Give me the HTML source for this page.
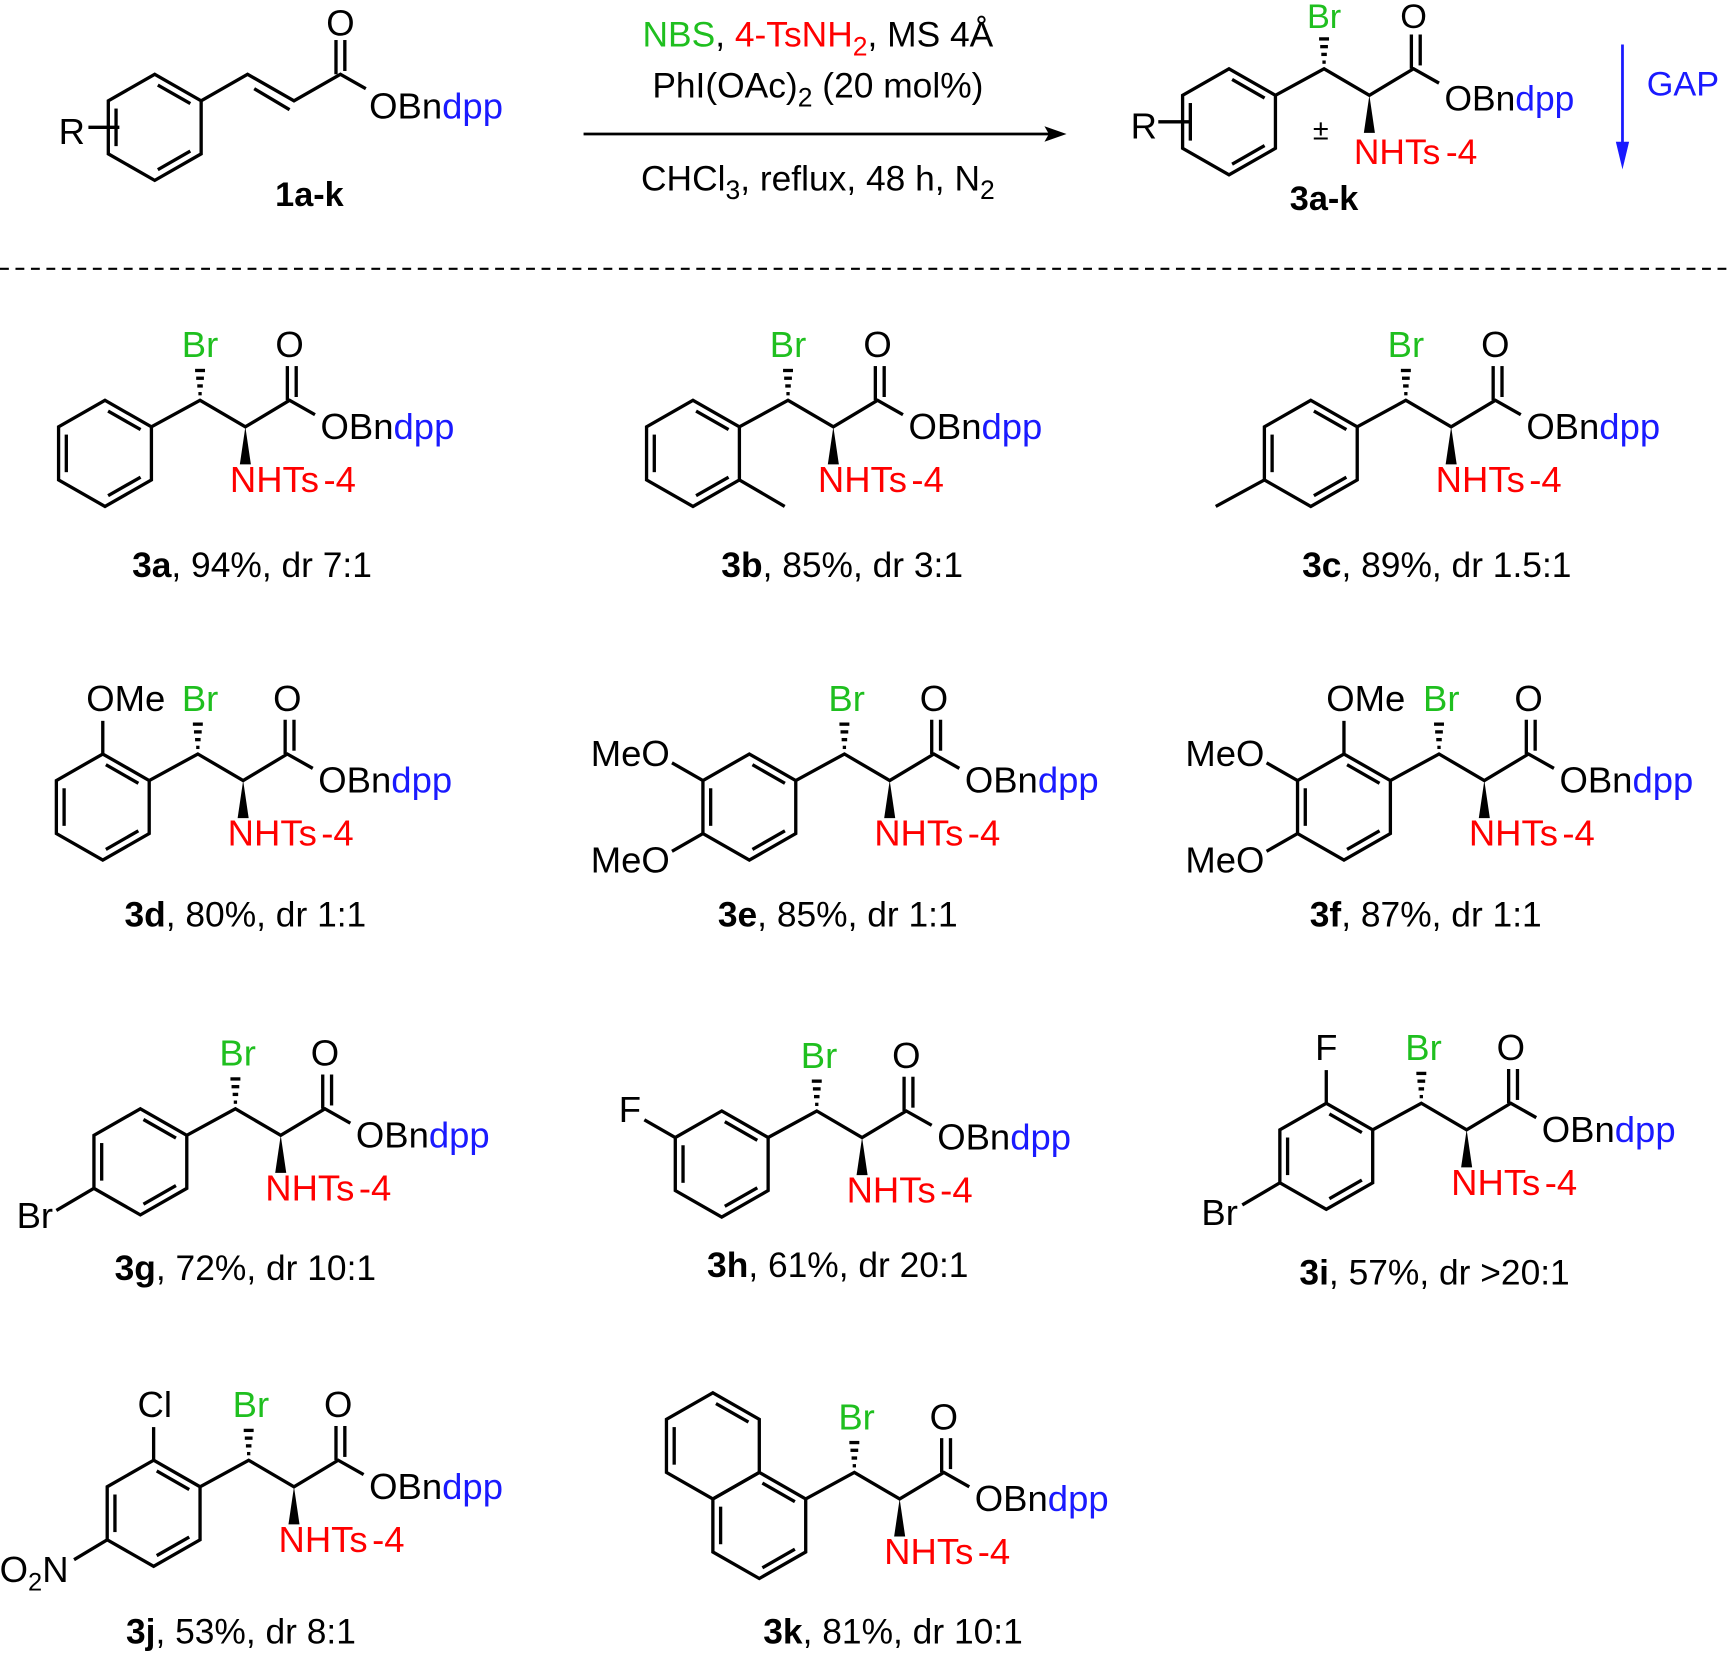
<!DOCTYPE html>
<html><head><meta charset="utf-8"><style>
html,body{margin:0;padding:0;background:#fff;}
svg{display:block;}
text{font-family:"Liberation Sans",Arial,sans-serif;}
.g{fill:#1fbf1f}.r{fill:#ff0000}.b{fill:#1a1aff}.k{fill:#000}
</style></head><body>
<svg width="1733" height="1655" viewBox="0 0 1568 1497" xmlns="http://www.w3.org/2000/svg">
<defs>
<g id="ring" fill="none" stroke="#000" stroke-width="3">
<polygon points="-86,0 -44,24 -44,72 -86,96 -128,72 -128,24" stroke-linejoin="miter"/>
<line x1="-83.2" y1="9.7" x2="-53.8" y2="26.5"/>
<line x1="-53.8" y1="69.5" x2="-83.2" y2="86.3"/>
<line x1="-121" y1="31" x2="-121" y2="65"/>
</g>
<g id="core">
<use href="#ring"/>
<g fill="none" stroke="#000" stroke-width="3">
<polyline points="-44,24 0,0 41,24 81,0 104,13"/>
<line x1="79" y1="0" x2="79" y2="-31"/>
<line x1="87" y1="-3" x2="87" y2="-31"/>
<line x1="-1.5" y1="-6" x2="1.5" y2="-6" />
<line x1="-2.5" y1="-13" x2="2.5" y2="-13"/>
<line x1="-3.5" y1="-20" x2="3.5" y2="-20"/>
<line x1="-4.5" y1="-27" x2="4.5" y2="-27"/>
</g>
<polygon points="41,24 36,58 46,58" fill="#000"/>
</g>
</defs>

<!-- Top reactant -->
<g transform="translate(226,67)">
<use href="#ring"/>
</g>
<g fill="none" stroke="#000" stroke-width="3">
<polyline points="182,91 224,67 266,91 308,67 331,80"/>
<line x1="230" y1="80" x2="262" y2="99"/>
<line x1="304" y1="67" x2="304" y2="36"/>
<line x1="312" y1="64" x2="312" y2="36"/>
<line x1="80" y1="115" x2="108" y2="115"/>
</g>
<text x="308" y="32" font-size="33" text-anchor="middle" class="k">O</text>
<text x="334" y="107" font-size="33" class="k">OBn<tspan class="b">dpp</tspan></text>
<text x="53" y="130" font-size="33" class="k">R</text>
<text x="280" y="186" font-size="31" font-weight="bold" text-anchor="middle" class="k">1a-k</text>

<!-- reaction arrow -->
<line x1="528" y1="121" x2="950" y2="121" stroke="#000" stroke-width="2.5"/>
<polygon points="965,121 945,114 949,121 945,128" fill="#000"/>
<text x="740" y="42" font-size="32" text-anchor="middle" class="k"><tspan class="g">NBS</tspan>, <tspan class="r">4-TsNH</tspan><tspan class="r" font-size="24" dy="8">2</tspan><tspan dy="-8">, MS 4Å</tspan></text>
<text x="740" y="88" font-size="32" text-anchor="middle" class="k">PhI(OAc)<tspan font-size="24" dy="8">2</tspan><tspan dy="-8"> (20 mol%)</tspan></text>
<text x="740" y="172" font-size="32" text-anchor="middle" class="k">CHCl<tspan font-size="24" dy="8">3</tspan><tspan dy="-8">, reflux, 48 h, N</tspan><tspan font-size="24" dy="8">2</tspan></text>

<!-- top product -->
<g transform="translate(1198,62)">
<use href="#core"/>
<line x1="-150" y1="48" x2="-120" y2="48" stroke="#000" stroke-width="3"/>
<text x="0" y="-37" font-size="31" text-anchor="middle" class="g">Br</text>
<text x="81" y="-37" font-size="31" text-anchor="middle" class="k">O</text>
<text x="109" y="38" font-size="32" class="k">OBn<tspan class="b">dpp</tspan></text>
<text x="27" y="86" font-size="32" class="r">NHTs<tspan dx="5">-4</tspan></text>
<text x="-3" y="64" font-size="26" text-anchor="middle" class="k">±</text>
<text x="-175" y="63" font-size="33" class="k">R</text>
<text x="0" y="128" font-size="31" font-weight="bold" text-anchor="middle" class="k">3a-k</text>
</g>
<!-- GAP -->
<line x1="1468" y1="40" x2="1468" y2="135" stroke="#1a1aff" stroke-width="2.5"/>
<polygon points="1468,153 1462,128 1474,128" fill="#1a1aff"/>
<text x="1490" y="86" font-size="31" class="b">GAP</text>

<!-- dashed -->
<line x1="0" y1="243" x2="1568" y2="243" stroke="#000" stroke-width="2" stroke-dasharray="8,6"/>

<!-- 3a -->
<g transform="translate(181,362)">
<use href="#core"/>
<text x="0" y="-39" font-size="33" text-anchor="middle" class="g">Br</text>
<text x="81" y="-39" font-size="33" text-anchor="middle" class="k">O</text>
<text x="109" y="35" font-size="33" class="k">OBn<tspan class="b">dpp</tspan></text>
<text x="27" y="83" font-size="33" class="r">NHTs<tspan dx="4">-4</tspan></text>
</g>
<text x="228" y="522" font-size="32" text-anchor="middle" class="k"><tspan font-weight="bold">3a</tspan>, 94%, dr 7:1</text>

<!-- 3b -->
<g transform="translate(713,362)">
<use href="#core"/>
<line x1="-44" y1="72" x2="-3" y2="96" stroke="#000" stroke-width="3"/>
<text x="0" y="-39" font-size="33" text-anchor="middle" class="g">Br</text>
<text x="81" y="-39" font-size="33" text-anchor="middle" class="k">O</text>
<text x="109" y="35" font-size="33" class="k">OBn<tspan class="b">dpp</tspan></text>
<text x="27" y="83" font-size="33" class="r">NHTs<tspan dx="4">-4</tspan></text>
</g>
<text x="762" y="522" font-size="32" text-anchor="middle" class="k"><tspan font-weight="bold">3b</tspan>, 85%, dr 3:1</text>

<!-- 3c -->
<g transform="translate(1272,362)">
<use href="#core"/>
<line x1="-128" y1="72" x2="-172" y2="96" stroke="#000" stroke-width="3"/>
<text x="0" y="-39" font-size="33" text-anchor="middle" class="g">Br</text>
<text x="81" y="-39" font-size="33" text-anchor="middle" class="k">O</text>
<text x="109" y="35" font-size="33" class="k">OBn<tspan class="b">dpp</tspan></text>
<text x="27" y="83" font-size="33" class="r">NHTs<tspan dx="4">-4</tspan></text>
</g>
<text x="1300" y="522" font-size="32" text-anchor="middle" class="k"><tspan font-weight="bold">3c</tspan>, 89%, dr 1.5:1</text>

<!-- 3d -->
<g transform="translate(179,682)">
<use href="#core"/>
<line x1="-86" y1="0" x2="-86" y2="-30" stroke="#000" stroke-width="3"/>
<text x="-101" y="-39" font-size="33" class="k">OMe</text>
<text x="2" y="-39" font-size="33" text-anchor="middle" class="g">Br</text>
<text x="81" y="-39" font-size="33" text-anchor="middle" class="k">O</text>
<text x="109" y="35" font-size="33" class="k">OBn<tspan class="b">dpp</tspan></text>
<text x="27" y="83" font-size="33" class="r">NHTs<tspan dx="4">-4</tspan></text>
</g>
<text x="222" y="838" font-size="32" text-anchor="middle" class="k"><tspan font-weight="bold">3d</tspan>, 80%, dr 1:1</text>

<!-- 3e -->
<g transform="translate(764,682)">
<use href="#core"/>
<line x1="-128" y1="24" x2="-156" y2="8" stroke="#000" stroke-width="3"/>
<line x1="-128" y1="72" x2="-156" y2="88" stroke="#000" stroke-width="3"/>
<text x="-158" y="11" font-size="33" text-anchor="end" class="k">MeO</text>
<text x="-158" y="107" font-size="33" text-anchor="end" class="k">MeO</text>
<text x="2" y="-39" font-size="33" text-anchor="middle" class="g">Br</text>
<text x="81" y="-39" font-size="33" text-anchor="middle" class="k">O</text>
<text x="109" y="35" font-size="33" class="k">OBn<tspan class="b">dpp</tspan></text>
<text x="27" y="83" font-size="33" class="r">NHTs<tspan dx="4">-4</tspan></text>
</g>
<text x="758" y="838" font-size="32" text-anchor="middle" class="k"><tspan font-weight="bold">3e</tspan>, 85%, dr 1:1</text>

<!-- 3f -->
<g transform="translate(1302,682)">
<use href="#core"/>
<line x1="-128" y1="24" x2="-156" y2="8" stroke="#000" stroke-width="3"/>
<line x1="-128" y1="72" x2="-156" y2="88" stroke="#000" stroke-width="3"/>
<line x1="-86" y1="0" x2="-86" y2="-30" stroke="#000" stroke-width="3"/>
<text x="-102" y="-39" font-size="33" class="k">OMe</text>
<text x="-158" y="11" font-size="33" text-anchor="end" class="k">MeO</text>
<text x="-158" y="107" font-size="33" text-anchor="end" class="k">MeO</text>
<text x="2" y="-39" font-size="33" text-anchor="middle" class="g">Br</text>
<text x="81" y="-39" font-size="33" text-anchor="middle" class="k">O</text>
<text x="109" y="35" font-size="33" class="k">OBn<tspan class="b">dpp</tspan></text>
<text x="27" y="83" font-size="33" class="r">NHTs<tspan dx="4">-4</tspan></text>
</g>
<text x="1290" y="838" font-size="32" text-anchor="middle" class="k"><tspan font-weight="bold">3f</tspan>, 87%, dr 1:1</text>

<!-- 3g -->
<g transform="translate(213,1003)">
<use href="#core"/>
<line x1="-128" y1="72" x2="-162" y2="92" stroke="#000" stroke-width="3"/>
<text x="-165" y="108" font-size="33" text-anchor="end" class="k">Br</text>
<text x="2" y="-39" font-size="33" text-anchor="middle" class="g">Br</text>
<text x="81" y="-39" font-size="33" text-anchor="middle" class="k">O</text>
<text x="109" y="35" font-size="33" class="k">OBn<tspan class="b">dpp</tspan></text>
<text x="27" y="83" font-size="33" class="r">NHTs<tspan dx="4">-4</tspan></text>
</g>
<text x="222" y="1158" font-size="32" text-anchor="middle" class="k"><tspan font-weight="bold">3g</tspan>, 72%, dr 10:1</text>

<!-- 3h -->
<g transform="translate(739,1005)">
<use href="#core"/>
<line x1="-128" y1="24" x2="-156" y2="8" stroke="#000" stroke-width="3"/>
<text x="-159" y="10" font-size="33" text-anchor="end" class="k">F</text>
<text x="2" y="-39" font-size="33" text-anchor="middle" class="g">Br</text>
<text x="81" y="-39" font-size="33" text-anchor="middle" class="k">O</text>
<text x="109" y="35" font-size="33" class="k">OBn<tspan class="b">dpp</tspan></text>
<text x="27" y="83" font-size="33" class="r">NHTs<tspan dx="4">-4</tspan></text>
</g>
<text x="758" y="1155" font-size="32" text-anchor="middle" class="k"><tspan font-weight="bold">3h</tspan>, 61%, dr 20:1</text>

<!-- 3i -->
<g transform="translate(1286,998)">
<use href="#core"/>
<line x1="-86" y1="0" x2="-86" y2="-30" stroke="#000" stroke-width="3"/>
<line x1="-128" y1="72" x2="-162" y2="92" stroke="#000" stroke-width="3"/>
<text x="-86" y="-39" font-size="33" text-anchor="middle" class="k">F</text>
<text x="-166" y="110" font-size="33" text-anchor="end" class="k">Br</text>
<text x="2" y="-39" font-size="33" text-anchor="middle" class="g">Br</text>
<text x="81" y="-39" font-size="33" text-anchor="middle" class="k">O</text>
<text x="109" y="35" font-size="33" class="k">OBn<tspan class="b">dpp</tspan></text>
<text x="27" y="83" font-size="33" class="r">NHTs<tspan dx="4">-4</tspan></text>
</g>
<text x="1298" y="1162" font-size="32" text-anchor="middle" class="k"><tspan font-weight="bold">3i</tspan>, 57%, dr &gt;20:1</text>

<!-- 3j -->
<g transform="translate(225,1321)">
<use href="#core"/>
<line x1="-86" y1="0" x2="-86" y2="-30" stroke="#000" stroke-width="3"/>
<line x1="-128" y1="72" x2="-158" y2="90" stroke="#000" stroke-width="3"/>
<text x="-85" y="-39" font-size="33" text-anchor="middle" class="k">Cl</text>
<text x="-163" y="110" font-size="33" text-anchor="end" class="k">O<tspan font-size="23" dy="8">2</tspan><tspan dy="-8">N</tspan></text>
<text x="2" y="-39" font-size="33" text-anchor="middle" class="g">Br</text>
<text x="81" y="-39" font-size="33" text-anchor="middle" class="k">O</text>
<text x="109" y="35" font-size="33" class="k">OBn<tspan class="b">dpp</tspan></text>
<text x="27" y="83" font-size="33" class="r">NHTs<tspan dx="4">-4</tspan></text>
</g>
<text x="218" y="1487" font-size="32" text-anchor="middle" class="k"><tspan font-weight="bold">3j</tspan>, 53%, dr 8:1</text>

<!-- 3k -->
<g transform="translate(773,1332)">
<use href="#core"/>
<g transform="translate(-42,-72)" fill="none" stroke="#000" stroke-width="3">
<polygon points="-86,0 -44,24 -44,72 -86,96 -128,72 -128,24"/>
<line x1="-83.2" y1="9.7" x2="-53.8" y2="26.5"/>
<line x1="-121" y1="31" x2="-121" y2="65"/>
</g>
<text x="2" y="-39" font-size="33" text-anchor="middle" class="g">Br</text>
<text x="81" y="-39" font-size="33" text-anchor="middle" class="k">O</text>
<text x="109" y="35" font-size="33" class="k">OBn<tspan class="b">dpp</tspan></text>
<text x="27" y="83" font-size="33" class="r">NHTs<tspan dx="4">-4</tspan></text>
</g>
<text x="808" y="1487" font-size="32" text-anchor="middle" class="k"><tspan font-weight="bold">3k</tspan>, 81%, dr 10:1</text>
</svg>
</body></html>
